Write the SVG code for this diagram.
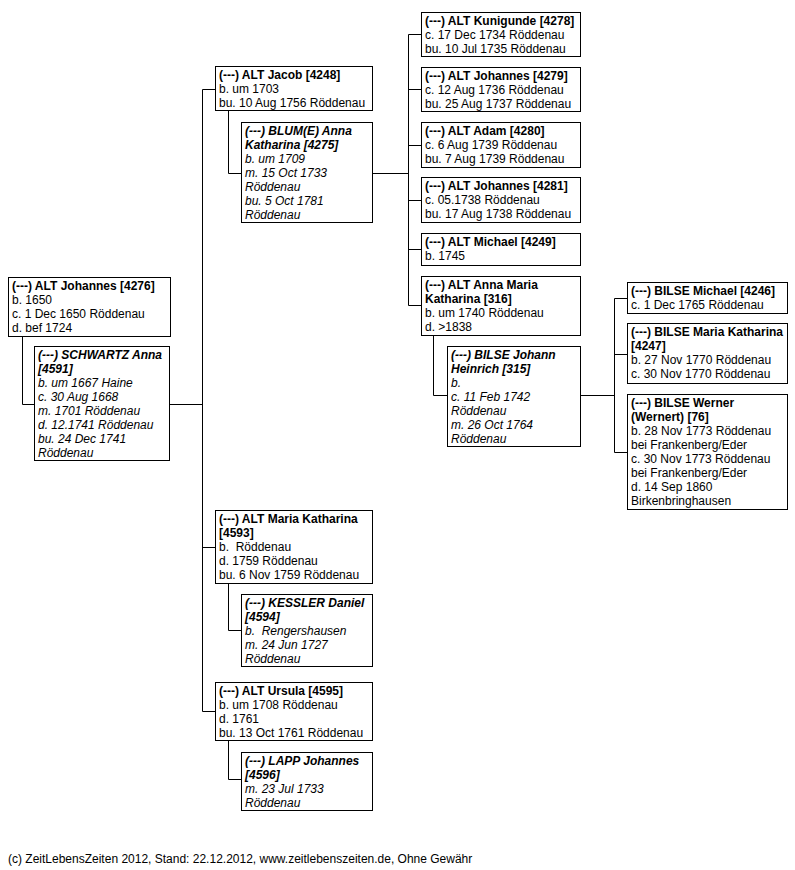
<svg xmlns="http://www.w3.org/2000/svg" width="795" height="870" viewBox="0 0 795 870">
<style>
text{font-family:"Liberation Sans",Arial,sans-serif;font-size:12px;fill:#000;white-space:pre}
.box{fill:#fff;stroke:#000;stroke-width:1}
.b{font-weight:bold}
.i{font-style:italic}
.con{fill:none;stroke:#000;stroke-width:1}
</style>
<rect width="795" height="870" fill="#fff"/>
<g id="connectors" class="con">
<path d="M22.5 337V404.5H34"/>
<path d="M170 404.5H202.5"/>
<path d="M202.5 89.5V711.5M202.5 89.5H215M202.5 547.5H215M202.5 711.5H215"/>
<path d="M228.5 111V173.5H241"/>
<path d="M373 173.5H408.5"/>
<path d="M408.5 34.5V305.5M408.5 34.5H421M408.5 89.5H421M408.5 145.5H421M408.5 200.5H421M408.5 249.5H421M408.5 305.5H421"/>
<path d="M433.5 336V395.5H447"/>
<path d="M581 395.5H614.5"/>
<path d="M614.5 298.5V452.5M614.5 298.5H627M614.5 354.5H627M614.5 452.5H627"/>
<path d="M228.5 584V630.5H241"/>
<path d="M228.5 741V779.5H241"/>
</g>
<g id="n4276">
<rect class="box" x="8.5" y="277.5" width="162" height="59"/>
<text x="12" y="290"><tspan class="b">(---) ALT Johannes [4276]</tspan><tspan x="12" dy="14">b. 1650</tspan><tspan x="12" dy="14">c. 1 Dec 1650 Röddenau</tspan><tspan x="12" dy="14">d. bef 1724</tspan></text>
</g>
<g id="n4591">
<rect class="box" x="34.5" y="346.5" width="135" height="114"/>
<text class="i" x="38" y="359"><tspan class="b">(---) SCHWARTZ Anna</tspan><tspan class="b" x="38" dy="14">[4591]</tspan><tspan x="38" dy="14">b. um 1667 Haine</tspan><tspan x="38" dy="14">c. 30 Aug 1668</tspan><tspan x="38" dy="14">m. 1701 Röddenau</tspan><tspan x="38" dy="14">d. 12.1741 Röddenau</tspan><tspan x="38" dy="14">bu. 24 Dec 1741</tspan><tspan x="38" dy="14">Röddenau</tspan></text>
</g>
<g id="n4248">
<rect class="box" x="215.5" y="66.5" width="157" height="44"/>
<text x="219" y="79"><tspan class="b">(---) ALT Jacob [4248]</tspan><tspan x="219" dy="14">b. um 1703</tspan><tspan x="219" dy="14">bu. 10 Aug 1756 Röddenau</tspan></text>
</g>
<g id="n4275">
<rect class="box" x="241.5" y="122.5" width="131" height="100"/>
<text class="i" x="245" y="135"><tspan class="b">(---) BLUM(E) Anna</tspan><tspan class="b" x="245" dy="14">Katharina [4275]</tspan><tspan x="245" dy="14">b. um 1709</tspan><tspan x="245" dy="14">m. 15 Oct 1733</tspan><tspan x="245" dy="14">Röddenau</tspan><tspan x="245" dy="14">bu. 5 Oct 1781</tspan><tspan x="245" dy="14">Röddenau</tspan></text>
</g>
<g id="n4278">
<rect class="box" x="421.5" y="12.5" width="159" height="44"/>
<text x="425" y="25"><tspan class="b">(---) ALT Kunigunde [4278]</tspan><tspan x="425" dy="14">c. 17 Dec 1734 Röddenau</tspan><tspan x="425" dy="14">bu. 10 Jul 1735 Röddenau</tspan></text>
</g>
<g id="n4279">
<rect class="box" x="421.5" y="67.5" width="159" height="44"/>
<text x="425" y="80"><tspan class="b">(---) ALT Johannes [4279]</tspan><tspan x="425" dy="14">c. 12 Aug 1736 Röddenau</tspan><tspan x="425" dy="14">bu. 25 Aug 1737 Röddenau</tspan></text>
</g>
<g id="n4280">
<rect class="box" x="421.5" y="122.5" width="159" height="45"/>
<text x="425" y="135"><tspan class="b">(---) ALT Adam [4280]</tspan><tspan x="425" dy="14">c. 6 Aug 1739 Röddenau</tspan><tspan x="425" dy="14">bu. 7 Aug 1739 Röddenau</tspan></text>
</g>
<g id="n4281">
<rect class="box" x="421.5" y="177.5" width="159" height="45"/>
<text x="425" y="190"><tspan class="b">(---) ALT Johannes [4281]</tspan><tspan x="425" dy="14">c. 05.1738 Röddenau</tspan><tspan x="425" dy="14">bu. 17 Aug 1738 Röddenau</tspan></text>
</g>
<g id="n4249">
<rect class="box" x="421.5" y="233.5" width="159" height="32"/>
<text x="425" y="246"><tspan class="b">(---) ALT Michael [4249]</tspan><tspan x="425" dy="14">b. 1745</tspan></text>
</g>
<g id="n316">
<rect class="box" x="421.5" y="276.5" width="159" height="59"/>
<text x="425" y="289"><tspan class="b">(---) ALT Anna Maria</tspan><tspan class="b" x="425" dy="14">Katharina [316]</tspan><tspan x="425" dy="14">b. um 1740 Röddenau</tspan><tspan x="425" dy="14">d. &gt;1838</tspan></text>
</g>
<g id="n315">
<rect class="box" x="447.5" y="346.5" width="133" height="100"/>
<text class="i" x="451" y="359"><tspan class="b">(---) BILSE Johann</tspan><tspan class="b" x="451" dy="14">Heinrich [315]</tspan><tspan x="451" dy="14">b.</tspan><tspan x="451" dy="14">c. 11 Feb 1742</tspan><tspan x="451" dy="14">Röddenau</tspan><tspan x="451" dy="14">m. 26 Oct 1764</tspan><tspan x="451" dy="14">Röddenau</tspan></text>
</g>
<g id="n4246">
<rect class="box" x="627.5" y="282.5" width="160" height="31"/>
<text x="631" y="295"><tspan class="b">(---) BILSE Michael [4246]</tspan><tspan x="631" dy="14">c. 1 Dec 1765 Röddenau</tspan></text>
</g>
<g id="n4247">
<rect class="box" x="627.5" y="323.5" width="160" height="60"/>
<text x="631" y="336"><tspan class="b">(---) BILSE Maria Katharina</tspan><tspan class="b" x="631" dy="14">[4247]</tspan><tspan x="631" dy="14">b. 27 Nov 1770 Röddenau</tspan><tspan x="631" dy="14">c. 30 Nov 1770 Röddenau</tspan></text>
</g>
<g id="n76">
<rect class="box" x="627.5" y="394.5" width="160" height="115"/>
<text x="631" y="407"><tspan class="b">(---) BILSE Werner</tspan><tspan class="b" x="631" dy="14">(Wernert) [76]</tspan><tspan x="631" dy="14">b. 28 Nov 1773 Röddenau</tspan><tspan x="631" dy="14">bei Frankenberg/Eder</tspan><tspan x="631" dy="14">c. 30 Nov 1773 Röddenau</tspan><tspan x="631" dy="14">bei Frankenberg/Eder</tspan><tspan x="631" dy="14">d. 14 Sep 1860</tspan><tspan x="631" dy="14">Birkenbringhausen</tspan></text>
</g>
<g id="n4593">
<rect class="box" x="215.5" y="510.5" width="157" height="73"/>
<text x="219" y="523"><tspan class="b">(---) ALT Maria Katharina</tspan><tspan class="b" x="219" dy="14">[4593]</tspan><tspan x="219" dy="14">b.  Röddenau</tspan><tspan x="219" dy="14">d. 1759 Röddenau</tspan><tspan x="219" dy="14">bu. 6 Nov 1759 Röddenau</tspan></text>
</g>
<g id="n4594">
<rect class="box" x="241.5" y="594.5" width="131" height="72"/>
<text class="i" x="245" y="607"><tspan class="b">(---) KESSLER Daniel</tspan><tspan class="b" x="245" dy="14">[4594]</tspan><tspan x="245" dy="14">b.  Rengershausen</tspan><tspan x="245" dy="14">m. 24 Jun 1727</tspan><tspan x="245" dy="14">Röddenau</tspan></text>
</g>
<g id="n4595">
<rect class="box" x="215.5" y="682.5" width="157" height="58"/>
<text x="219" y="695"><tspan class="b">(---) ALT Ursula [4595]</tspan><tspan x="219" dy="14">b. um 1708 Röddenau</tspan><tspan x="219" dy="14">d. 1761</tspan><tspan x="219" dy="14">bu. 13 Oct 1761 Röddenau</tspan></text>
</g>
<g id="n4596">
<rect class="box" x="241.5" y="752.5" width="131" height="58"/>
<text class="i" x="245" y="765"><tspan class="b">(---) LAPP Johannes</tspan><tspan class="b" x="245" dy="14">[4596]</tspan><tspan x="245" dy="14">m. 23 Jul 1733</tspan><tspan x="245" dy="14">Röddenau</tspan></text>
</g>
<text x="8" y="863">(c) ZeitLebensZeiten 2012, Stand: 22.12.2012, www.zeitlebenszeiten.de, Ohne Gewähr</text>
</svg>
